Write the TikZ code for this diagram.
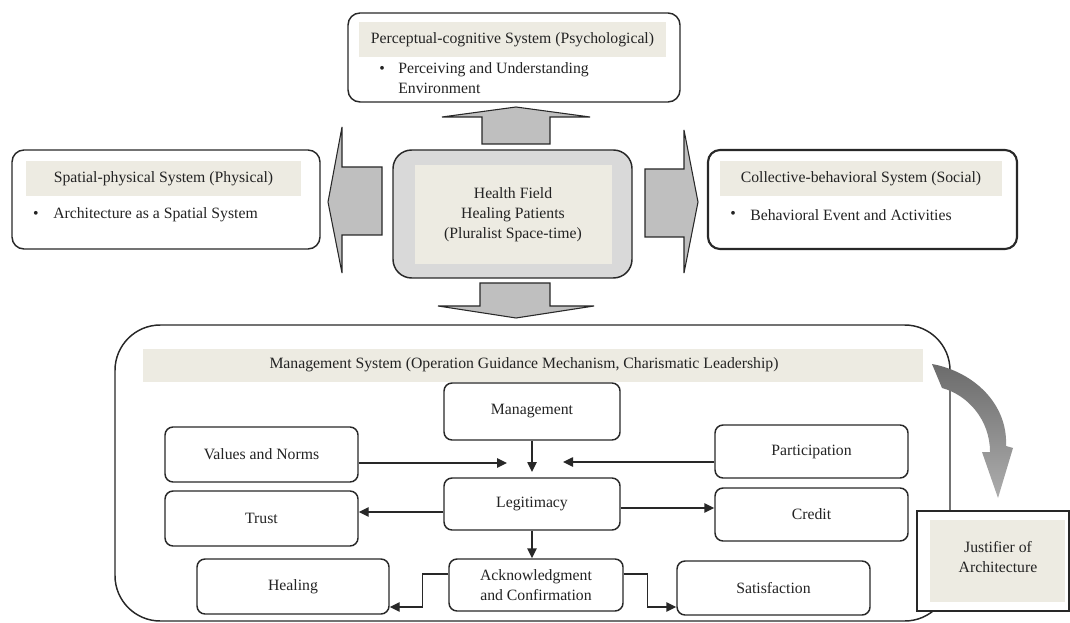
\documentclass[tikz,border=0pt]{standalone}
\usepackage{fontspec}
\setmainfont{Liberation Serif}
\usetikzlibrary{arrows.meta,calc,positioning}
\definecolor{bandbeige}{RGB}{237,235,226}
\definecolor{arrowgray}{RGB}{191,191,191}
\definecolor{hubgray}{RGB}{217,217,217}
\definecolor{edgedark}{RGB}{40,40,40}
\definecolor{inkgray}{RGB}{35,35,35}

\tikzset{
  txt/.style={font=\fontsize{11.8}{14.5}\selectfont,text=inkgray,inner sep=0pt},
  band/.style={fill=bandbeige},
  sysbox/.style={draw=edgedark,line width=1.1pt,rounded corners=9pt,fill=white},
  item/.style={txt,draw=edgedark,line width=1.1pt,rounded corners=6pt,fill=white,align=center},
  blockarrow/.style={fill=arrowgray,draw=edgedark,line width=0.8pt,line join=miter},
  flow/.style={draw=edgedark,line width=1.1pt,-{Triangle[length=7.5pt,width=7pt]}},
}

\begin{document}
\begin{tikzpicture}[x=0.75pt,y=-0.75pt]
\useasboundingbox (0,0) rectangle (1070,623);

%% ── perceptual-cognitive system (top) ───────────────────────────────────────
\draw[sysbox] (348,13) rectangle (680,102);
\node[txt,band,minimum width=230.25pt,minimum height=26.25pt] (perctitle)
  at (512.5,39.5) {Perceptual-cognitive System (Psychological)};
\node[txt] (percdot) at (382,70) {\textbullet};
\node[txt,anchor=west] (percline) at (398,70) {Perceiving and Understanding};
\node[txt,anchor=west] (percline2) at (398,88) {Environment};

%% ── spatial-physical system (left) ──────────────────────────────────────────
\draw[sysbox] (12,150) rectangle (320,249);
\node[txt,band,minimum width=206.25pt,minimum height=26.25pt] (spattitle)
  at (163.5,178.5) {Spatial-physical System (Physical)};
\node[txt] (spatdot) at (36,215) {\textbullet};
\node[txt,anchor=west] (spatline) at (53,215) {Architecture as a Spatial System};

%% ── collective-behavioral system (right) ────────────────────────────────────
\draw[sysbox,line width=1.6pt] (708,150) rectangle (1017,249);
\node[txt,band,minimum width=211.5pt,minimum height=26.25pt] (colltitle)
  at (861,178.5) {Collective-behavioral System (Social)};
\node[txt] (colldot) at (733,215) {\textbullet};
\node[txt,anchor=west] (collline) at (750,215) {Behavioral Event and Activities};

%% ── health field hub ────────────────────────────────────────────────────────
\draw[fill=hubgray,draw=edgedark,line width=1.1pt,rounded corners=14pt]
  (393,150) rectangle (632,278);
\fill[bandbeige] (415,165) rectangle (612,264);
\node[txt,align=center,font=\fontsize{11.8}{15}\selectfont] (hub) at (513,215)
  {Health Field\\Healing Patients\\(Pluralist Space-time)};

%% ── block arrows out of the hub ─────────────────────────────────────────────
% up
\draw[blockarrow] (482,144) -- (482,117) -- (442,117) -- (516,107)
  -- (590,117) -- (550,117) -- (550,144) -- cycle;
% left
\draw[blockarrow] (382,167) -- (342,167) -- (342,127) -- (328,202)
  -- (342,273) -- (342,235) -- (382,235) -- cycle;
% right
\draw[blockarrow] (645,169) -- (684,169) -- (684,130) -- (698,202)
  -- (684,273) -- (684,237) -- (645,237) -- cycle;
% down
\draw[blockarrow] (480,283) -- (480,306) -- (438,306) -- (516,318)
  -- (594,306) -- (550,306) -- (550,283) -- cycle;

%% ── management system frame ─────────────────────────────────────────────────
\draw[sysbox,rounded corners=34pt] (115,325) rectangle (950,621);
\fill[bandbeige] (143,349) rectangle (923,382);
\node[txt] (mstitle) at (524,365)
  {Management System (Operation Guidance Mechanism, Charismatic Leadership)};

%% ── management items ────────────────────────────────────────────────────────
\node[item,minimum width=132pt,minimum height=42.75pt] (mgmt) at (532,411.5) {Management};
\node[item,minimum width=132pt,minimum height=39pt] (legit) at (532,504) {Legitimacy};
\node[item,minimum width=130.5pt,minimum height=39pt] (ack) at (536,585)
  {Acknowledgment\\and Confirmation};
\node[item,minimum width=144.75pt,minimum height=41.25pt] (values) at (261.5,454.5) {Values and Norms};
\node[item,minimum width=144.75pt,minimum height=41.25pt] (trust) at (261.5,518.5) {Trust};
\node[item,minimum width=144pt,minimum height=41.25pt] (healing) at (293,586.5) {Healing};
\node[item,minimum width=144.75pt,minimum height=39.75pt] (partic) at (811.5,451.5) {Participation};
\node[item,minimum width=144.75pt,minimum height=39.75pt] (credit) at (811.5,514.5) {Credit};
\node[item,minimum width=144.75pt,minimum height=40.5pt] (satis) at (773.5,588) {Satisfaction};

%% ── connectors ──────────────────────────────────────────────────────────────
\coordinate (merge) at (532,472);
\coordinate (leftin) at (507,463);
\coordinate (rightin) at (563,462);
\coordinate (trustrow) at (0,512);
\coordinate (creditrow) at (0,508);
\coordinate (ackrow) at (0,574);
\coordinate (lowrow) at (0,607);
\draw[flow] (mgmt) -- (merge);
\draw[flow] (values.east |- leftin) -- (leftin);
\draw[flow] (partic.west |- rightin) -- (rightin);
\draw[flow] (legit.west |- trustrow) -- (trust.east |- trustrow);
\draw[flow] (legit.east |- creditrow) -- (credit.west |- creditrow);
\draw[flow] (legit) -- (legit.south |- ack.north);
\draw[flow] (ack.west |- ackrow) -- ++(-26,0) |- (healing.east |- lowrow);
\draw[flow] (ack.east |- ackrow) -- ++(24,0) |- (satis.west |- lowrow);

%% ── justifier of architecture ───────────────────────────────────────────────
\draw[draw=edgedark,line width=1.5pt,fill=white] (917,511) rectangle (1069,611);
\fill[bandbeige] (930,520) rectangle (1065,602);
\node[txt,align=center] (justifier) at (998,557) {Justifier of\\Architecture};

% curved gray arrow into the justifier
\shade[top color=black!58,bottom color=black!32]
  (932,364) .. controls (975,372) and (1008,405) .. (1006,446)
  -- (1013,448) -- (998,498) -- (982,452) -- (990,452)
  .. controls (990,420) and (968,395) .. (942,388) -- cycle;

\end{tikzpicture}
\end{document}
